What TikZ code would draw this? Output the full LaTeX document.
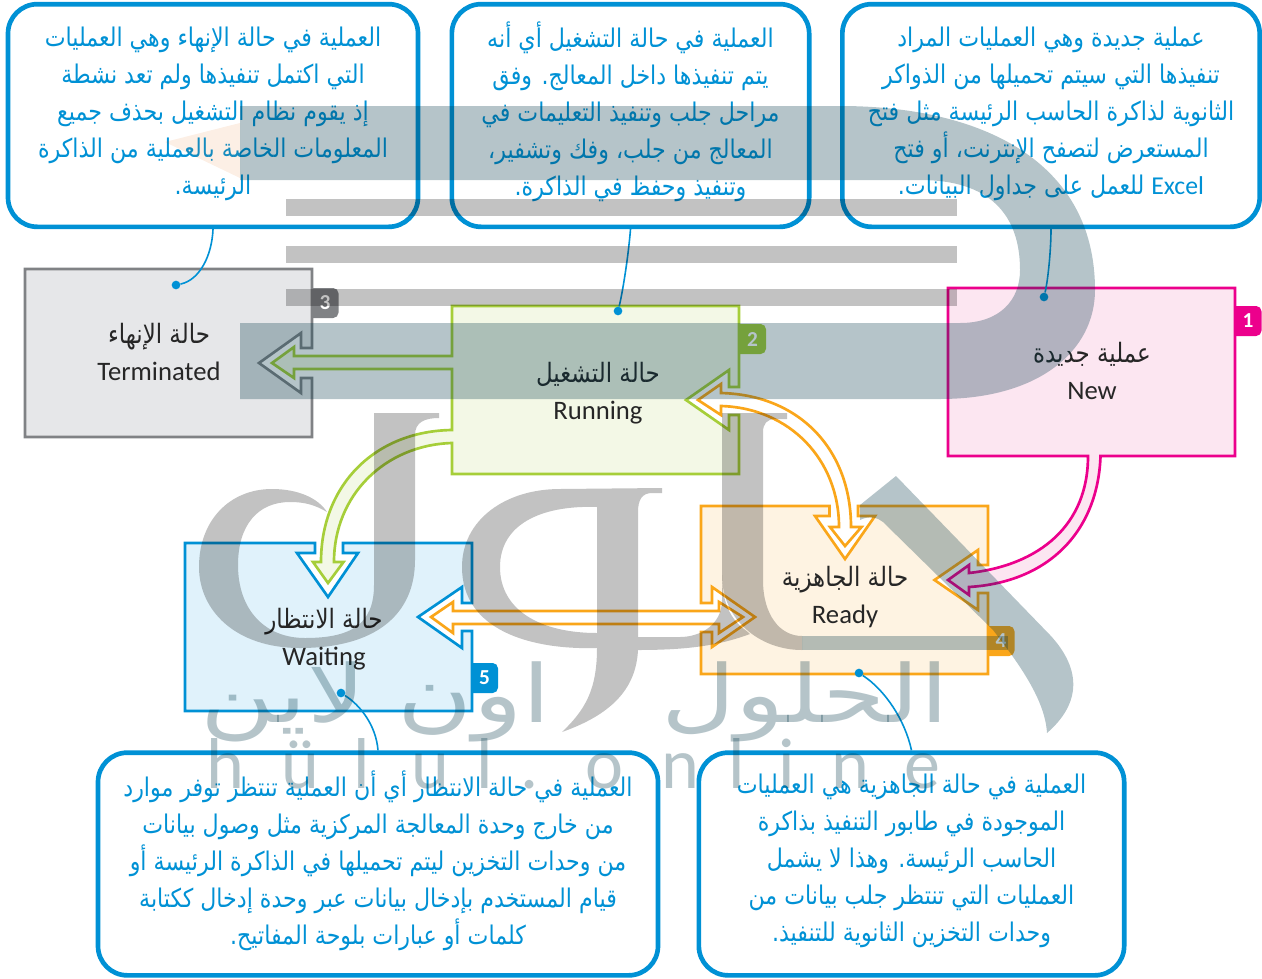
\documentclass[tikz,border=0pt]{standalone}
\usepackage{fontspec}
\usepackage{xcolor}
\setmainfont{Carlito}
\newfontfamily\arabicfont[Script=Arabic,FakeStretch=0.86]{DejaVu Sans}
\newfontfamily\logofont[Script=Arabic,FakeStretch=1.28]{DejaVu Sans}
\TeXXeTstate=1
\newcommand{\rl}[1]{\beginR #1\endR}
\definecolor{calloutblue}{HTML}{0091D5}
\definecolor{newline}{HTML}{EC008C}
\definecolor{newfill}{HTML}{FCE6F1}
\definecolor{runline}{HTML}{A6CE39}
\definecolor{runfill}{HTML}{F3F8E6}
\definecolor{doneline}{HTML}{808285}
\definecolor{donefill}{HTML}{E6E7E9}
\definecolor{waitfill}{HTML}{E0F2FB}
\definecolor{readyline}{HTML}{FAA61A}
\definecolor{readyfill}{HTML}{FEF3E2}
\definecolor{markpeach}{RGB}{224,97,0}
\definecolor{markblue}{RGB}{0,53,70}
\tikzset{
  callout/.style={draw=calloutblue, line width=3.5pt, rounded corners=22pt, inner sep=0pt, align=center,
    text=calloutblue, text depth=10pt, font=\arabicfont\fontsize{19.3}{27.75}\selectfont},
  statebox/.style={line width=2pt, miter limit=10},
  statelabel/.style={align=center, text=black!85, font=\fontsize{20}{27.75}\selectfont},
  badge/.style={text=white, font=\bfseries\fontsize{16}{18}\selectfont},
  leader/.style={calloutblue, line width=1.2pt},
  dot/.style={circle, fill=calloutblue, inner sep=0pt, minimum size=6.5pt},
  markb/.style={fill=markblue, opacity=0.29},
  markg/.style={fill=black, opacity=0.24},
  logoword/.style={text=markblue, text opacity=0.29, anchor=base, font=\logofont\fontsize{60}{60}\selectfont},
  onlineletter/.style={text=markblue, text opacity=0.29, anchor=base, font=\fontsize{54}{54}\selectfont},
}
\begin{document}
\begin{tikzpicture}[x=0.75pt,y=-0.75pt]
\useasboundingbox (0,0) rectangle (1262,978);

% Number tabs behind the boxes
\foreach \n/\x/\y/\col in {1/1248/321/newline, 2/752.5/339/runline, 3/325/303/doneline, 4/1001/641/readyline, 5/484.5/678/calloutblue} {
    \fill[\col, rounded corners=4pt] (\x-24,\y-15) rectangle (\x+13.5,\y+15);
    \node[badge] (tab\n) at (\x,\y) {\n};
}

% State boxes with their notches and block arrows
\draw[statebox, draw=doneline, fill=donefill] (25,269) -- (312,269) -- (312,348) -- (301,348) -- (301,333) -- (259,363) -- (301,393) -- (301,378) -- (312,378) -- (312,437) -- (25,437) -- cycle;

\draw[statebox, draw=runline, fill=runfill] (452,306) -- (739,306) -- (739,387) -- (729,387) -- (729,370) -- (686,400) -- (729,430) -- (729,415) -- (739,415) -- (739,474) -- (452,474) -- (452,443)
    .. controls (385,445) and (334,495) .. (334,562) -- (343.5,562) -- (328,583) -- (313,562) -- (321,562)
    .. controls (321,485) and (375,431) .. (452,430) -- (452,369) -- (294,369) -- (294,378) -- (272,363) -- (294,347) -- (294,356) -- (452,356) -- cycle;

\draw[statebox, draw=newline, fill=newfill] (948,288) -- (1235,288) -- (1235,456) -- (1100.5,456)
    .. controls (1098,530) and (1050,582) .. (969,587) -- (969,595) -- (948,580) -- (969,565) -- (969,573)
    .. controls (1040,565) and (1088,525) .. (1088,456) -- (948,456) -- cycle;

\draw[statebox, draw=readyline, fill=readyfill] (701,506) -- (829.5,506) -- (829.5,516) -- (815,516) -- (845,559) -- (875,516) -- (858,516) -- (858,506) -- (988,506) -- (988,565) -- (978,565) -- (978,550) -- (934.5,580) -- (978,610) -- (978,593) -- (988,593) -- (988,674) -- (701,674) -- (701,632) -- (712,632) -- (712,647) -- (755,617) -- (712,587) -- (712,603) -- (701,603) -- cycle;

\draw[statebox, draw=calloutblue, fill=waitfill] (185,543) -- (315,543) -- (315,553) -- (297,553) -- (328,597) -- (358,553) -- (343,553) -- (343,543) -- (472,543) -- (472,603) -- (462,603) -- (462,587) -- (418,617) -- (462,648) -- (462,631) -- (472,631) -- (472,711) -- (185,711) -- cycle;

% Double-headed arrows
\draw[statebox, draw=readyline, fill=white] (698,400) -- (721,384) -- (721,393)
    .. controls (800,395) and (851,450) .. (851,527) -- (861.5,527) -- (845,546) -- (830,527) -- (839,527)
    .. controls (839,460) and (790,408) .. (721,406) -- (721,415) -- cycle;
\draw[statebox, draw=readyline, fill=white] (431,617) -- (453,602) -- (453,611) -- (719,611) -- (719,602) -- (743,617) -- (719,633) -- (719,624) -- (453,624) -- (453,633) -- cycle;

% State labels
\node[statelabel] (newstate) at (1092,370.5) {{\arabicfont\rl{عملية جديدة}}\\New};
\node[statelabel] (runstate) at (598,393) {{\arabicfont\rl{حالة التشغيل}}\\Running};
\node[statelabel] (donestate) at (159,351.5) {{\arabicfont\rl{حالة الإنهاء}}\\Terminated};
\node[statelabel] (readystate) at (845,597) {{\arabicfont\rl{حالة الجاهزية}}\\Ready};
\node[statelabel] (waitstate) at (324,639.5) {{\arabicfont\rl{حالة الانتظار}}\\Waiting};

% Callouts
\node[callout, text depth=7pt, minimum width=307.5pt, minimum height=167pt] (calldone) at (213,115.5) {\rl{العملية في حالة الإنهاء وهي العمليات}\\\rl{التي اكتمل تنفيذها ولم تعد نشطة}\\\rl{إذ يقوم نظام التشغيل بحذف جميع}\\\rl{المعلومات الخاصة بالعملية من الذاكرة}\\\rl{الرئيسة.}};
\node[callout, minimum width=268pt, minimum height=167pt] (callrun) at (630.5,115.5) {\rl{العملية في حالة التشغيل أي أنه}\\\rl{يتم تنفيذها داخل المعالج. وفق}\\\rl{مراحل جلب وتنفيذ التعليمات في}\\\rl{المعالج من جلب، وفك وتشفير،}\\\rl{وتنفيذ وحفظ في الذاكرة.}};
\node[callout, text depth=7pt, minimum width=313pt, minimum height=167pt] (callnew) at (1051,115.5) {\rl{عملية جديدة وهي العمليات المراد}\\\rl{تنفيذها التي سيتم تحميلها من الذواكر}\\\rl{الثانوية لذاكرة الحاسب الرئيسة مثل فتح}\\\rl{المستعرض لتصفح الإنترنت، أو فتح}\\\rl{{\rmfamily\beginL Excel\endL} للعمل على جداول البيانات.}};
\node[callout, minimum width=420pt, minimum height=167pt] (callwait) at (378,864) {\rl{العملية في حالة الانتظار أي أن العملية تنتظر توفر موارد}\\\rl{من خارج وحدة المعالجة المركزية مثل وصول بيانات}\\\rl{من وحدات التخزين ليتم تحميلها في الذاكرة الرئيسة أو}\\\rl{قيام المستخدم بإدخال بيانات عبر وحدة إدخال ككتابة}\\\rl{كلمات أو عبارات بلوحة المفاتيح.}};
\node[callout, minimum width=319pt, minimum height=167pt] (callready) at (911.5,864) {\rl{العملية في حالة الجاهزية هي العمليات}\\\rl{الموجودة في طابور التنفيذ بذاكرة}\\\rl{الحاسب الرئيسة. وهذا لا يشمل}\\\rl{العمليات التي تنتظر جلب بيانات من}\\\rl{وحدات التخزين الثانوية للتنفيذ.}};

% Leaders
\node[dot] (dotdone) at (176,285) {};
\node[dot] (dotrun) at (618,311) {};
\node[dot] (dotnew) at (1044,297) {};
\node[dot] (dotwait) at (341,693) {};
\node[dot] (dotready) at (859,673) {};
\draw[leader] (calldone.south) .. controls (212,255) and (200,280) .. (dotdone);
\draw[leader] (callrun.south) .. controls (628,260) and (622,295) .. (dotrun);
\draw[leader] (callnew.south) .. controls (1051,250) and (1048,280) .. (dotnew);
\draw[leader] (callwait.north) .. controls (376,725) and (360,705) .. (dotwait);
\draw[leader] (callready.north) .. controls (905,720) and (885,690) .. (dotready);

% Watermark laid over everything
\fill[fill=markpeach, opacity=0.1] (165,142) -- (240,123) -- (240,178) -- cycle;
\fill[markb] (240,106) -- (840,106) .. controls (980,106) and (1095,160) .. (1095,290) .. controls (1095,350) and (1040,399) .. (940,399) -- (240,399) -- (240,323) -- (960,323) .. controls (1000,323) and (1020,300) .. (1020,270) .. controls (1020,215) and (990,180) .. (920,180) -- (240,180) -- cycle;
\foreach \y in {199,246,289} {
    \fill[markg] (286,\y) rectangle (957,\y+17);
}
% left letter
\fill[markg] (374,413) -- (439,413) -- (439,418) .. controls (425,418) and (415,422) .. (415,435) -- (415,560) .. controls (415,615) and (375,648) .. (300,648) .. controls (235,648) and (199,610) .. (199,567) .. controls (199,520) and (230,489) .. (272,489) .. controls (298,489) and (318,498) .. (327,512) .. controls (315,505) and (305,502) .. (290,502) .. controls (258,502) and (238,525) .. (238,565) .. controls (238,610) and (265,638) .. (305,638) .. controls (350,638) and (374,625) .. (374,585) -- cycle;
% middle letter
\fill[markg, even odd rule] (662,488) -- (662,493) -- (652,493) .. controls (642,493) and (638,500) .. (638,512) -- (638,637) -- (680,637) .. controls (700,637) and (722,625) .. (722,600) -- (722,575) .. controls (722,620) and (745,628) .. (750,634) .. controls (720,645) and (690,650) .. (638,650) .. controls (636,690) and (610,715) .. (562,732) .. controls (585,710) and (597,690) .. (597,648) .. controls (530,650) and (462,630) .. (462,567) .. controls (462,520) and (505,489) .. (560,489) -- cycle
    (597,507) .. controls (540,505) and (500,525) .. (500,567) .. controls (500,610) and (540,633) .. (597,633) -- cycle;
% right letter
\fill[markg] (722,413) -- (787,413) -- (787,419) -- (775,419) .. controls (767,419) and (763,424) .. (763,432) -- (763,580) .. controls (763,615) and (780,636) .. (802,636) -- (802,650) .. controls (760,650) and (722,620) .. (722,575) -- cycle;
\fill[markb] (802,636) rectangle (1008,650);
\fill[markb] (860,505) -- (896,476) -- (1050,635) .. controls (1078,665) and (1085,700) .. (1047,733) .. controls (1045,700) and (1020,665) .. (993,630) -- (883,522) .. controls (878,518) and (870,515) .. (860,520) -- cycle;
% logo words
\node[logoword] (logoright) at (805,722) {\rl{الحلول}};
\node[logoword] (logoleft) at (376,722) {\rl{اون لاين}};
\foreach \n/\x/\ch in {1/225/h, 2/300/ü, 3/362/l, 4/430/u, 5/485/l, 6/530/., 7/604/o, 8/680/n, 9/737/l, 10/787/i, 11/850/n, 12/922/e} {
    \node[onlineletter] (online\n) at (\x,788) {\ch};
}
\end{tikzpicture}
\end{document}
